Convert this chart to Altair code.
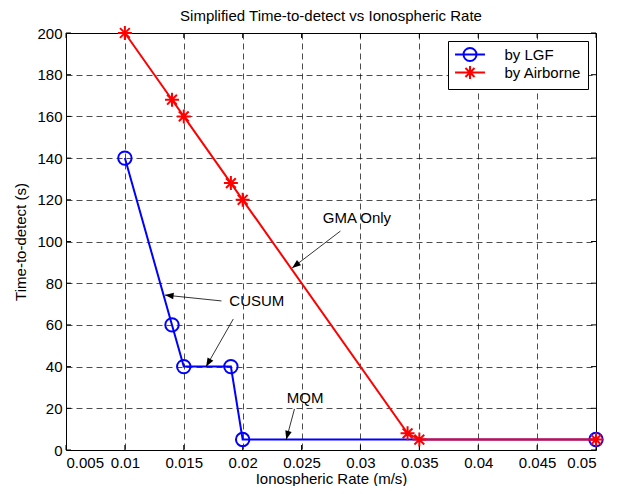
import math
import altair as alt
import pandas as pd

# ---- data ----
lgf_rate = [0.01, 0.014, 0.015, 0.019, 0.02, 0.05]
lgf_time = [140, 60, 40, 40, 5, 5]
air_rate = [0.01, 0.014, 0.015, 0.019, 0.02, 0.034, 0.035, 0.05]
air_time = [200, 168, 160, 128, 120, 8, 5, 5]
series_names = ["by LGF", "by Airborne"]
series_colors = ["#0000ff", "#ff0000"]

note_text = ["GMA Only", "CUSUM", "MQM"]
note_x = [0.0297, 0.0212, 0.0253]
note_y = [111.3, 71.5, 24.9]

arrow_x0 = [0.0283, 0.0182, 0.0192, 0.0244]
arrow_y0 = [105.0, 71.5, 62.8, 19.7]
arrow_x1 = [0.0242, 0.0134, 0.0169, 0.0237]
arrow_y1 = [87.3, 74.3, 40.0, 5.0]

x_ticks = [0.005, 0.01, 0.015, 0.02, 0.025, 0.03, 0.035, 0.04, 0.045, 0.05]
y_ticks = [0, 20, 40, 60, 80, 100, 120, 140, 160, 180, 200]

# ---- layout / style ----
W, H = 530, 417
XDOM = [0.005, 0.05]
YDOM = [0, 200]
FONT = "Liberation Sans"
TICK = 5

df_lgf = pd.DataFrame({"rate": lgf_rate, "time": lgf_time, "series": series_names[0]})
df_air = pd.DataFrame({"rate": air_rate, "time": air_time, "series": series_names[1]})
df_notes = pd.DataFrame({"x": note_x, "y": note_y, "t": note_text})
df_xt = pd.DataFrame({"v": x_ticks})
df_yt = pd.DataFrame({"v": y_ticks})


def screen_angle(x0, y0, x1, y1):
    dx = (x1 - x0) / (XDOM[1] - XDOM[0]) * W
    dy = -(y1 - y0) / (YDOM[1] - YDOM[0]) * H
    return math.degrees(math.atan2(dx, -dy)) % 360


df_arrows = pd.DataFrame({"x0": arrow_x0, "y0": arrow_y0, "x1": arrow_x1, "y1": arrow_y1})
df_arrows["ang"] = [screen_angle(a, b, c, d) for a, b, c, d in zip(arrow_x0, arrow_y0, arrow_x1, arrow_y1)]

xs = alt.Scale(domain=XDOM, nice=False, zero=False)
ys = alt.Scale(domain=YDOM, nice=False, zero=False)

x_axis = alt.Axis(values=x_ticks, format=".3~f", title="Ionospheric Rate (m/s)")
y_axis = alt.Axis(values=y_ticks, format="d", title="Time-to-detect (s)")


def X(f):
    return alt.X(f, scale=xs, axis=x_axis)


def Y(f):
    return alt.Y(f, scale=ys, axis=y_axis)


CIRCLE_LEG = "M-2.3,0L2.3,0M1,0A1,1,0,1,0,-1,0A1,1,0,1,0,1,0"
STAR_LEG = "M-2.3,0L2.3,0M0,-1L0,1M-0.7,-0.7L0.7,0.7M-0.7,0.7L0.7,-0.7"
STAR = "M-1,0L1,0M0,-1L0,1M-0.7,-0.7L0.7,0.7M-0.7,0.7L0.7,-0.7"
HEAD = "M0,0L-0.38,1L0.38,1Z"

legend = alt.Legend(
    title=None,
    orient="top-right",
    offset=8,
    padding=6,
    strokeColor="black",
    fillColor="white",
    cornerRadius=0,
    symbolSize=169,
    symbolStrokeWidth=2,
    symbolOffset=8.5,
    symbolFillColor="transparent",
    symbolType={"expr": f"datum.value === 'by LGF' ? '{CIRCLE_LEG}' : '{STAR_LEG}'"},
    labelOffset=27,
    labelFont=FONT,
    labelFontSize=15,
    labelColor="black",
    rowPadding=-3,
)
color = alt.Color(
    "series:N",
    scale=alt.Scale(domain=series_names, range=series_colors),
    legend=legend,
)

# inward ticks on all four sides (MATLAB box style)
ticks_bottom = alt.Chart(df_xt).mark_rule(color="black", strokeWidth=1).encode(
    x=X("v:Q"), y=alt.value(H), y2=alt.value(H - TICK))
ticks_top = alt.Chart(df_xt).mark_rule(color="black", strokeWidth=1).encode(
    x=X("v:Q"), y=alt.value(0), y2=alt.value(TICK))
ticks_left = alt.Chart(df_yt).mark_rule(color="black", strokeWidth=1).encode(
    y=Y("v:Q"), x=alt.value(0), x2=alt.value(TICK))
ticks_right = alt.Chart(df_yt).mark_rule(color="black", strokeWidth=1).encode(
    y=Y("v:Q"), x=alt.value(W), x2=alt.value(W - TICK))

line_lgf = alt.Chart(df_lgf).mark_line(strokeWidth=2).encode(x=X("rate:Q"), y=Y("time:Q"), color=color)
pts_lgf = alt.Chart(df_lgf).mark_point(
    shape="circle", filled=False, size=180, strokeWidth=2, color=series_colors[0], opacity=1
).encode(x=X("rate:Q"), y=Y("time:Q"))

line_air = alt.Chart(df_air).mark_line(strokeWidth=2).encode(x=X("rate:Q"), y=Y("time:Q"), color=color)
pts_air = alt.Chart(df_air).mark_point(
    shape=STAR, filled=False, size=196, strokeWidth=2, color=series_colors[1], opacity=1
).encode(x=X("rate:Q"), y=Y("time:Q"))

shafts = alt.Chart(df_arrows).mark_rule(color="black", strokeWidth=0.8).encode(
    x=X("x0:Q"), y=Y("y0:Q"), x2="x1:Q", y2="y1:Q")
heads = alt.Chart(df_arrows).mark_point(
    shape=HEAD, filled=True, color="black", size=300, opacity=1, strokeWidth=0
).encode(x=X("x1:Q"), y=Y("y1:Q"), angle=alt.Angle("ang:Q", scale=None))
notes = alt.Chart(df_notes).mark_text(font=FONT, fontSize=15, color="black").encode(
    x=X("x:Q"), y=Y("y:Q"), text="t:N")

chart = (
    alt.layer(ticks_bottom, ticks_top, ticks_left, ticks_right, notes,
              line_lgf, pts_lgf, line_air, pts_air, shafts, heads)
    .properties(
        width=W,
        height=H,
        title=alt.TitleParams(
            "Simplified Time-to-detect vs Ionospheric Rate",
            font=FONT, fontSize=15, fontWeight="normal", color="black", anchor="middle",
            offset=0, dy=2,
        ),
        padding={"left": 58, "top": 25, "right": 22, "bottom": 36},
        autosize=alt.AutoSizeParams(type="none"),
    )
    .configure_view(stroke="black", strokeWidth=1)
    .configure_axis(
        labelFont=FONT, labelFontSize=15, labelColor="black",
        titleFont=FONT, titleFontSize=15, titleFontWeight="normal", titleColor="black",
        grid=True, gridColor="black", gridDash=[6, 4], gridWidth=0.7, gridOpacity=1,
        domain=False, tickSize=0,
    )
    .configure_axisX(labelPadding=5, titlePadding=1)
    .configure_axisY(labelPadding=4, titlePadding=8)
)

chart.save("out.html", embed_options={"renderer": "svg", "actions": False})
